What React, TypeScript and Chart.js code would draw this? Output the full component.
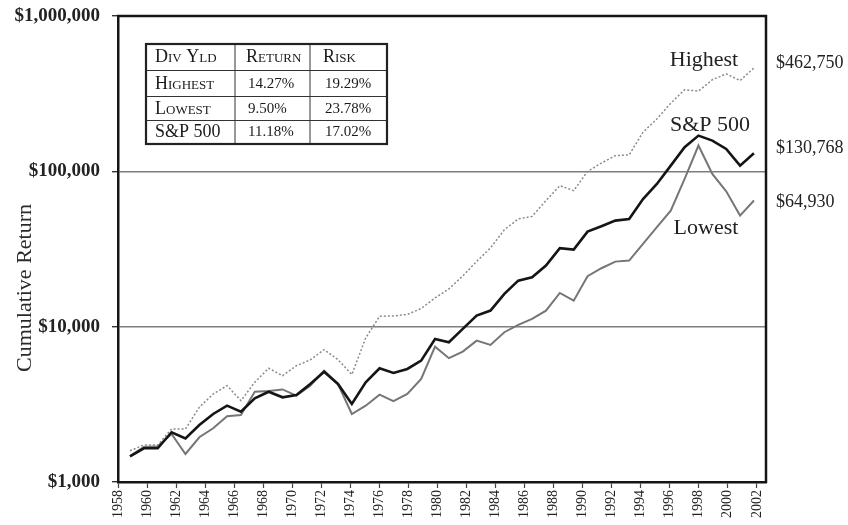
import React, { useEffect, useRef } from 'react';
import { Chart, registerables } from 'chart.js';

Chart.register(...registerables);

// ---- Data (cumulative value of $1,000, one point per year-end, 46 periods) ----
const sp500 = [
  1464, 1648, 1648, 2090, 1910, 2328, 2740, 3100, 2835, 3460,
  3813, 3509, 3630, 4275, 5130, 4276, 3177, 4385, 5400, 5033,
  5344, 6045, 8337, 7943, 9670, 11780, 12690, 16250, 19780, 20800,
  24720, 31990, 31330, 40920, 44300, 48170, 49340, 66350, 82900, 108800,
  143000, 169800, 157700, 139400, 108800, 130768,
];
const highest = [
  1590, 1730, 1730, 2193, 2193, 3027, 3687, 4171, 3338, 4385,
  5400, 4834, 5607, 6105, 7116, 6135, 4920, 8450, 11670, 11720,
  11980, 13090, 15300, 17500, 21210, 26300, 32140, 42070, 49380, 51260,
  64770, 80860, 75080, 99950, 113000, 126200, 127600, 178600, 217400, 274600,
  335100, 328300, 388700, 423800, 383800, 462750,
];
const lowest = [
  1470, 1680, 1700, 2036, 1515, 1941, 2217, 2650, 2700, 3810,
  3850, 3945, 3595, 4170, 5210, 4275, 2740, 3100, 3648, 3311,
  3690, 4605, 7440, 6270, 6910, 8130, 7630, 9210, 10260, 11210,
  12680, 16480, 14700, 21130, 23780, 26230, 26620, 34100, 43670, 55870,
  89300, 146600, 96200, 74300, 51880, 64930,
];

const seriesNames = ['S&P 500', 'Highest', 'Lowest'];
const finalLabels = ['$130,768', '$462,750', '$64,930'];
const yTickValues = [1000, 10000, 100000, 1000000];
const xTickYears = [
  1958, 1960, 1962, 1964, 1966, 1968, 1970, 1972, 1974, 1976, 1978, 1980,
  1982, 1984, 1986, 1988, 1990, 1992, 1994, 1996, 1998, 2000, 2002,
];
const yTitle = 'Cumulative Return';
const tableHeader = ['Div Yld', 'Return', 'Risk'];
const tableRows = [
  ['Highest', '14.27%', '19.29%'],
  ['Lowest', '9.50%', '23.78%'],
  ['S&P 500', '11.18%', '17.02%'],
];

const FONT = '"Liberation Serif", "Times New Roman", serif';

const toPoints = (arr: number[]) => arr.map((v, i) => ({ x: i, y: v }));

const overlayPlugin = {
  id: 'overlay',
  afterDraw(chart: any) {
    const { ctx, chartArea } = chart;
    const { left, top, right, bottom } = chartArea;
    ctx.save();

    // top and right frame
    ctx.strokeStyle = '#151515';
    ctx.lineWidth = 2.5;
    ctx.beginPath();
    ctx.moveTo(left - 1, top);
    ctx.lineTo(right, top);
    ctx.lineTo(right, bottom + 1);
    ctx.stroke();

    // y title
    ctx.save();
    ctx.translate(25, 288);
    ctx.rotate(-Math.PI / 2);
    ctx.font = `22px ${FONT}`;
    ctx.fillStyle = '#2a2a2a';
    ctx.textAlign = 'center';
    ctx.textBaseline = 'middle';
    ctx.fillText(yTitle, 0, 0);
    ctx.restore();

    // series names near the lines
    ctx.font = `22px ${FONT}`;
    ctx.fillStyle = '#222';
    ctx.textAlign = 'center';
    ctx.textBaseline = 'middle';
    const namePos = [
      [710, 125],
      [704, 60],
      [706, 228],
    ];
    seriesNames.forEach((n, i) => ctx.fillText(n, namePos[i][0], namePos[i][1]));

    // final values to the right
    ctx.font = `18px ${FONT}`;
    ctx.textAlign = 'left';
    const valY = [148, 63, 202];
    finalLabels.forEach((t, i) => ctx.fillText(t, right + 10, valY[i]));

    // table
    const tx0 = 146, tx1 = 387, ty0 = 44, ty1 = 144;
    const rowLines = [70.5, 96.5, 120.5];
    const colLines = [235, 310];
    ctx.strokeStyle = '#333';
    ctx.lineWidth = 1;
    rowLines.forEach((y) => {
      ctx.beginPath();
      ctx.moveTo(tx0, y);
      ctx.lineTo(tx1, y);
      ctx.stroke();
    });
    colLines.forEach((x) => {
      ctx.beginPath();
      ctx.moveTo(x, ty0);
      ctx.lineTo(x, ty1);
      ctx.stroke();
    });
    ctx.lineWidth = 2.2;
    ctx.strokeStyle = '#222';
    ctx.strokeRect(tx0, ty0, tx1 - tx0, ty1 - ty0);

    const colX = [155, 246, 323];
    const rowY = [57.5, 84, 109, 132.5];
    ctx.fillStyle = '#1a1a1a';
    ctx.textAlign = 'left';
    ctx.textBaseline = 'middle';
    const setFont = (caps: boolean, size: number) => {
      ctx.font = `${size}px ${FONT}`;
      try {
        (ctx as any).fontVariantCaps = caps ? 'small-caps' : 'normal';
      } catch (e) {}
    };
    setFont(true, 18);
    tableHeader.forEach((h, c) => ctx.fillText(h, colX[c], rowY[0]));
    tableRows.forEach((row, r) => {
      row.forEach((cell, c) => {
        if (c === 0) setFont(true, 18);
        else setFont(false, 15);
        ctx.fillText(cell, colX[c] + (c === 0 ? 0 : 2), rowY[r + 1]);
      });
    });
    setFont(false, 15);
    ctx.restore();
  },
};

export default function App() {
  const ref = useRef<HTMLCanvasElement | null>(null);

  useEffect(() => {
    if (!ref.current) return;
    const chart = new Chart(ref.current, {
      type: 'line',
      data: {
        datasets: [
          {
            label: seriesNames[0],
            data: toPoints(sp500),
            borderColor: '#151515',
            borderWidth: 2.6,
            pointRadius: 0,
            tension: 0,
            xAxisID: 'idx',
            yAxisID: 'y',
          },
          {
            label: seriesNames[1],
            data: toPoints(highest),
            borderColor: '#8a8a8a',
            borderWidth: 1.5,
            borderDash: [2, 2],
            pointRadius: 0,
            tension: 0,
            xAxisID: 'idx',
            yAxisID: 'y',
          },
          {
            label: seriesNames[2],
            data: toPoints(lowest),
            borderColor: '#767676',
            borderWidth: 2,
            pointRadius: 0,
            tension: 0,
            xAxisID: 'idx',
            yAxisID: 'y',
          },
        ],
      },
      options: {
        responsive: false,
        devicePixelRatio: 1,
        animation: false,
        layout: { padding: { left: 0, right: 82, top: 16, bottom: 0 } },
        plugins: {
          legend: { display: false },
          tooltip: { enabled: false },
          title: { display: false },
        },
        scales: {
          idx: {
            type: 'linear',
            display: false,
            min: -0.865,
            max: 45.87,
          },
          x: {
            type: 'linear',
            position: 'bottom',
            min: 1958,
            max: 2002.63,
            afterBuildTicks: (s: any) => {
              s.ticks = xTickYears.map((v) => ({ value: v }));
            },
            afterFit: (s: any) => {
              s.height = 43;
              s.paddingLeft = 0;
              s.paddingRight = 0;
            },
            grid: {
              drawOnChartArea: false,
              tickLength: 6,
              tickColor: '#444',
              tickWidth: 1.2,
            },
            border: { color: '#151515', width: 2.5 },
            ticks: {
              autoSkip: false,
              minRotation: 90,
              maxRotation: 90,
              padding: 2,
              color: '#222',
              font: { family: FONT, size: 14 },
              callback: (v: any) => String(v),
            },
          },
          y: {
            type: 'logarithmic',
            min: 1000,
            max: 1000000,
            afterBuildTicks: (s: any) => {
              s.ticks = yTickValues.map((v) => ({ value: v }));
            },
            afterFit: (s: any) => {
              s.width = 118;
              s.paddingTop = 0;
              s.paddingBottom = 0;
            },
            grid: {
              color: (c: any) =>
                c.tick && (c.tick.value === 10000 || c.tick.value === 100000)
                  ? '#7d7d7d'
                  : 'rgba(0,0,0,0)',
              lineWidth: 1.4,
              tickLength: 6,
              tickColor: '#333',
              tickWidth: 1.4,
            },
            border: { color: '#151515', width: 2.5 },
            ticks: {
              padding: 12,
              color: '#222',
              font: { family: FONT, size: 19, weight: 'bold' },
              callback: (v: any) => '$' + Number(v).toLocaleString('en-US'),
            },
          },
        },
      },
      plugins: [overlayPlugin],
    });
    return () => chart.destroy();
  }, []);

  return (
    <div style={{ position: 'absolute', left: 0, top: 0, width: 848, height: 525, background: '#fff' }}>
      <canvas ref={ref} width={848} height={525} style={{ display: 'block' }} />
    </div>
  );
}
